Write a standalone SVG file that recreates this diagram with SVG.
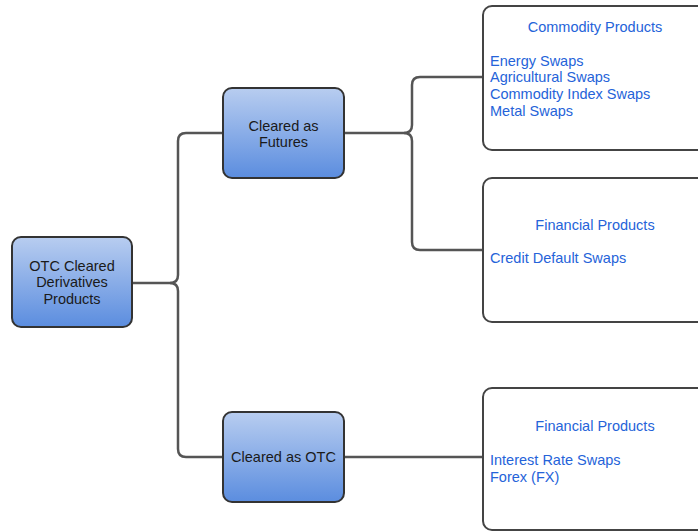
<svg xmlns="http://www.w3.org/2000/svg" width="698" height="532" viewBox="0 0 698 532">
<defs>
<linearGradient id="blueGrad" x1="0" y1="0" x2="0" y2="1">
<stop offset="0" stop-color="#b8cdf0"/>
<stop offset="1" stop-color="#5b8ddf"/>
</linearGradient>
<style>
.node{fill:url(#blueGrad);stroke:#333;stroke-width:2}
.box{fill:#fff;stroke:#444;stroke-width:2}
.conn{fill:none;stroke:#555;stroke-width:2.5}
.nt{font-family:"Liberation Sans",Arial,sans-serif;font-size:14.5px;fill:#1a1a1a;text-anchor:middle}
.bt{font-family:"Liberation Sans",Arial,sans-serif;font-size:14.5px;fill:#2563d9}
.bh{text-anchor:middle}
</style>
</defs>
<rect width="698" height="532" fill="#fff"/>
<g id="connectors">
<path class="conn" d="M132,283 H170 Q178,283 178,275 V141 Q178,133 186,133 H223"/>
<path class="conn" d="M170,283 Q178,283 178,291 V449 Q178,457 186,457 H223"/>
<path class="conn" d="M344,133 H404 Q412,133 412,125 V85 Q412,77 420,77 H483"/>
<path class="conn" d="M404,133 Q412,133 412,141 V242 Q412,250 420,250 H483"/>
<path class="conn" d="M344,457 H483"/>
</g>
<g id="root">
<rect class="node" x="12" y="237" width="120" height="90" rx="9"/>
<text class="nt" x="72" y="271">OTC Cleared</text>
<text class="nt" x="72" y="287">Derivatives</text>
<text class="nt" x="72" y="304">Products</text>
</g>
<g id="futures">
<rect class="node" x="223" y="88" width="121" height="90" rx="9"/>
<text class="nt" x="283.5" y="131">Cleared as</text>
<text class="nt" x="283.5" y="147">Futures</text>
</g>
<g id="otc">
<rect class="node" x="223" y="412" width="121" height="90" rx="9"/>
<text class="nt" x="283.5" y="462">Cleared as OTC</text>
</g>
<g id="commodity">
<rect class="box" x="483" y="6" width="240" height="144" rx="9"/>
<text class="bt bh" x="595" y="32">Commodity Products</text>
<text class="bt" x="490" y="65.5">Energy Swaps</text>
<text class="bt" x="490" y="82">Agricultural Swaps</text>
<text class="bt" x="490" y="99">Commodity Index Swaps</text>
<text class="bt" x="490" y="116">Metal Swaps</text>
</g>
<g id="financial1">
<rect class="box" x="483" y="178" width="240" height="144" rx="9"/>
<text class="bt bh" x="595" y="230">Financial Products</text>
<text class="bt" x="490" y="263">Credit Default Swaps</text>
</g>
<g id="financial2">
<rect class="box" x="483" y="388" width="240" height="142" rx="9"/>
<text class="bt bh" x="595" y="431">Financial Products</text>
<text class="bt" x="490" y="465">Interest Rate Swaps</text>
<text class="bt" x="490" y="482">Forex (FX)</text>
</g>
</svg>
